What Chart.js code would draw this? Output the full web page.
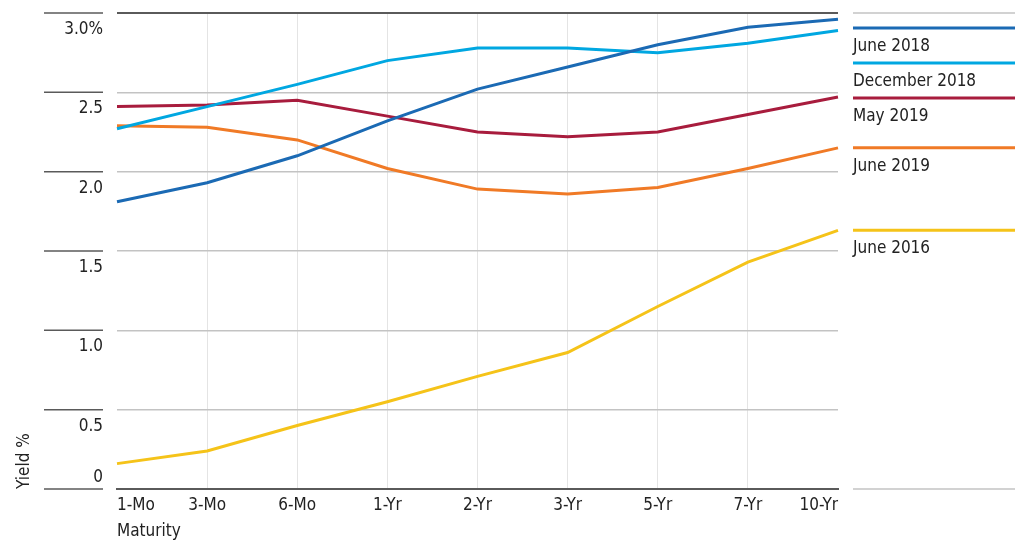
<!DOCTYPE html>
<html>
<head>
<meta charset="utf-8">
<title>Treasury yield curves</title>
<script src="https://cdn.jsdelivr.net/npm/chart.js@4.4.1/dist/chart.umd.min.js"></script>
<style>
  html, body { margin: 0; padding: 0; background: #ffffff; }
  canvas { display: block; }
</style>
</head>
<body>
<canvas id="curves" width="1024" height="542"></canvas>
<script>
// Maturities along the x axis
const maturities = ['1-Mo', '3-Mo', '6-Mo', '1-Yr', '2-Yr', '3-Yr', '5-Yr', '7-Yr', '10-Yr'];

// Y axis ticks and their printed labels
const yieldTicks = [0, 0.5, 1.0, 1.5, 2.0, 2.5, 3.0];
const yieldTickLabels = ['0', '0.5', '1.0', '1.5', '2.0', '2.5', '3.0%'];

// Yield curves (%), one value per maturity
const june2018     = [1.81, 1.93, 2.10, 2.32, 2.52, 2.66, 2.80, 2.91, 2.96];
const december2018 = [2.27, 2.41, 2.55, 2.70, 2.78, 2.78, 2.75, 2.81, 2.89];
const may2019      = [2.41, 2.42, 2.45, 2.35, 2.25, 2.22, 2.25, 2.36, 2.47];
const june2019     = [2.29, 2.28, 2.20, 2.02, 1.89, 1.86, 1.90, 2.02, 2.15];
const june2016     = [0.16, 0.24, 0.40, 0.55, 0.71, 0.86, 1.15, 1.43, 1.63];

const seriesNames  = ['June 2018', 'December 2018', 'May 2019', 'June 2019', 'June 2016'];
const seriesValues = [june2018, december2018, may2019, june2019, june2016];
const seriesColors = ['#1b6ab4', '#00a7e1', '#a81c3d', '#f07a26', '#f5c319'];

const FONT = '"Liberation Sans Narrow", "DejaVu Sans Condensed", "Roboto", sans-serif';
const FONT_SIZE = 17;
const TEXT = '#222222';
const DARK_RULE = '#5a5a5a';
const MID_RULE = '#c3c3c3';

Chart.defaults.font.family = FONT;
Chart.defaults.font.size = FONT_SIZE;
Chart.defaults.color = TEXT;

// Left tick stubs, the key panel on the right and its labelled swatches
const sidePanel = {
  id: 'sidePanel',
  afterDraw(chart) {
    const { ctx, chartArea, scales } = chart;
    const y = scales.y;
    const keyLeft = chartArea.right + 15;
    const keyRight = chartArea.right + 177;
    ctx.save();

    // short dark rules left of the value labels
    ctx.strokeStyle = DARK_RULE;
    ctx.lineWidth = 1.5;
    y.ticks.forEach((t, i) => {
      const py = y.getPixelForTick(i);
      ctx.beginPath();
      ctx.moveTo(44, py);
      ctx.lineTo(103, py);
      ctx.stroke();
    });

    // top and bottom rules of the key panel
    ctx.strokeStyle = MID_RULE;
    [y.max, y.min].forEach(v => {
      const py = y.getPixelForValue(v);
      ctx.beginPath();
      ctx.moveTo(keyLeft, py);
      ctx.lineTo(keyRight, py);
      ctx.stroke();
    });

    // swatches placed at each curve's 10-year level, pushed apart where they crowd
    const items = chart.data.datasets.map((ds, i) => {
      const pts = chart.getDatasetMeta(i).data;
      return { ds, end: pts[pts.length - 1].y };
    }).sort((a, b) => a.end - b.end);

    let prev = -Infinity;
    ctx.font = FONT_SIZE + 'px ' + FONT;
    ctx.fillStyle = TEXT;
    ctx.textAlign = 'left';
    ctx.textBaseline = 'alphabetic';
    items.forEach(it => {
      const ly = Math.max(it.end, chartArea.top + 15, prev + 35);
      prev = ly;
      ctx.strokeStyle = it.ds.borderColor;
      ctx.lineWidth = 3;
      ctx.beginPath();
      ctx.moveTo(keyLeft, ly);
      ctx.lineTo(keyRight, ly);
      ctx.stroke();
      ctx.fillText(it.ds.label, keyLeft, ly + 23);
    });
    ctx.restore();
  }
};

new Chart(document.getElementById('curves'), {
  type: 'line',
  data: {
    labels: maturities,
    datasets: seriesNames.map((name, i) => ({
      label: name,
      data: seriesValues[i],
      borderColor: seriesColors[i],
      backgroundColor: seriesColors[i],
      borderWidth: 3,
      pointRadius: 0,
      tension: 0,
      fill: false
    }))
  },
  options: {
    responsive: false,
    animation: false,
    devicePixelRatio: 1,
    layout: { padding: { left: 0, right: 186, top: 13, bottom: 0 } },
    plugins: {
      legend: { display: false },
      tooltip: { enabled: false }
    },
    scales: {
      x: {
        type: 'category',
        offset: false,
        afterFit(scale) {
          scale.height = 53;
          scale.paddingLeft = 0;
          scale.paddingRight = 0;
        },
        border: { display: true, color: DARK_RULE, width: 2 },
        grid: {
          drawTicks: false,
          lineWidth: 1,
          color: ctx => (ctx.index === 0 || ctx.index === maturities.length - 1) ? 'rgba(0,0,0,0)' : '#e4e4e4'
        },
        ticks: {
          align: 'inner',
          autoSkip: false,
          maxRotation: 0,
          padding: 6,
          color: TEXT
        },
        title: {
          display: true,
          text: 'Maturity',
          align: 'start',
          color: TEXT,
          padding: { top: 0, bottom: 0 }
        }
      },
      y: {
        min: yieldTicks[0],
        max: yieldTicks[yieldTicks.length - 1],
        afterFit(scale) {
          scale.width = 117;
          scale.paddingTop = 0;
          scale.paddingBottom = 0;
        },
        afterBuildTicks(scale) { scale.ticks = yieldTicks.map(v => ({ value: v })); },
        border: { display: false },
        grid: {
          drawTicks: false,
          lineWidth: ctx => (ctx.tick && ctx.tick.value === yieldTicks[yieldTicks.length - 1]) ? 2 : 1.5,
          color: ctx => (ctx.tick && (ctx.tick.value === yieldTicks[yieldTicks.length - 1] || ctx.tick.value === 0)) ? DARK_RULE : MID_RULE
        },
        ticks: {
          padding: 14,
          color: TEXT,
          font: { size: FONT_SIZE, lineHeight: '11px' },
          // value labels sit just under their rule; the zero label sits above it
          callback(value, index) {
            const label = yieldTickLabels[index];
            return value === 0 ? [label, '', ''] : ['', '', '', label];
          }
        },
        title: {
          display: true,
          text: 'Yield %',
          align: 'start',
          color: TEXT,
          font: { size: FONT_SIZE, lineHeight: 1.2 },
          padding: { top: 14, bottom: 0 }
        }
      }
    }
  },
  plugins: [sidePanel]
});
</script>
</body>
</html>
